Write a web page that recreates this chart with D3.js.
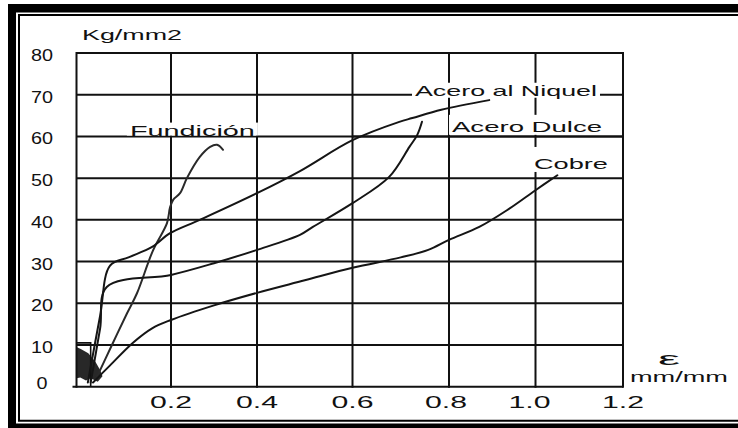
<!DOCTYPE html>
<html><head><meta charset="utf-8">
<script src="https://cdn.jsdelivr.net/npm/d3@7"></script>
<style>
html,body{margin:0;padding:0;background:#fff;}
svg{display:block;}
text{font-family:"Liberation Sans",Arial,Helvetica,sans-serif;fill:#111;}
</style>
</head><body>
<svg id="chart" width="738" height="428"></svg>
<script>
// ---------- data ----------
const xTicks = [0, 0.2, 0.4, 0.6, 0.8, 1.0, 1.2];
const xTickLabels = ["", "0.2", "0.4", "0.6", "0.8", "1.0", "1.2"];
const yTicks = [0, 10, 20, 30, 40, 50, 60, 70, 80];
const yTickLabels = ["0", "10", "20", "30", "40", "50", "60", "70", "80"];
const yUnit = "Kg/mm2";
const xSymbol = "ε";
const xUnit = "mm/mm";

const seriesNames = ["Fundición", "Acero al Niquel", "Acero Dulce", "Cobre"];

// [strain mm/mm, stress Kg/mm2]
const fundicion = [[0.043,2.3],[0.075,10],[0.107,17.6],[0.128,22.4],[0.162,32.7],[0.1915,39.2],[0.198,43],[0.205,44.8],[0.221,46.4],[0.237,50],[0.267,55.1],[0.291,57.5],[0.307,58],[0.321,56.8]];
const aceroNiquel = [[0.024,1],[0.05,17],[0.071,29],[0.11,31],[0.16,33.5],[0.198,36.8],[0.267,40],[0.4,46.4],[0.49,51.7],[0.6,59.1],[0.697,63.5],[0.724,64.4],[0.784,66.4],[0.893,68.7]];
const aceroDulce = [[0.03,1],[0.05,14],[0.064,23.9],[0.2,26.8],[0.3,29.6],[0.4,32.8],[0.49,36.4],[0.517,38.3],[0.6,44],[0.676,50.3],[0.718,57.5],[0.734,60.3],[0.744,63.5]];
const cobre = [[0.035,1],[0.07,5],[0.119,10.5],[0.16,14],[0.2,16],[0.3,19.5],[0.4,22.5],[0.5,25.5],[0.6,28.5],[0.7,31],[0.757,32.8],[0.8,35.2],[0.87,38.3],[0.934,42.3],[1.0,47.1],[1.05,50.7]];
// smeared elastic-zone detail near the origin
const zonaElastica = [[0,9.5],[0.01,9],[0.025,8],[0.04,6],[0.05,4],[0.055,2.5],[0.045,1.2],[0.03,2],[0.02,1.5],[0.008,2.2],[0,2]];
const zonaMarco = [[0,10.5],[0.03,10.5],[0.03,0]];

// ---------- layout ----------
const svg = d3.select("#chart");
const x = d3.scaleLinear().domain(xTicks).range([76.5, 171, 257, 352.5, 449, 535.5, 623]);
const y = d3.scaleLinear().domain([0, 80]).range([386.7, 53]);
const ink = "#111";

svg.append("rect").attr("width", 738).attr("height", 428).attr("fill", "#fff");

// frame
svg.append("rect").attr("x", 8).attr("y", 4).attr("width", 730).attr("height", 8.5).attr("fill", "#000");
svg.append("rect").attr("x", 8).attr("y", 4).attr("width", 8).attr("height", 424).attr("fill", "#000");
svg.append("rect").attr("x", 8).attr("y", 423.5).attr("width", 730).attr("height", 4.5).attr("fill", "#000");
svg.append("path").attr("d", "M738,15H19V420.7H738").attr("fill", "none").attr("stroke", "#000").attr("stroke-width", 2);

// grid
const g = svg.append("g");
g.selectAll("line.h").data(yTicks).join("line")
  .attr("x1", d => d === 0 ? x(0) - 4 : x(0)).attr("x2", x(1.2))
  .attr("y1", d => y(d)).attr("y2", d => y(d))
  .attr("stroke", ink).attr("stroke-width", 2);
g.selectAll("line.v").data(xTicks).join("line")
  .attr("x1", d => x(d)).attr("x2", d => x(d))
  .attr("y1", y(80) - 1).attr("y2", y(0) + 1)
  .attr("stroke", ink).attr("stroke-width", 2);

// elastic zone details
svg.append("path").datum(zonaElastica)
  .attr("d", d3.line().x(d => x(d[0])).y(d => y(d[1])))
  .attr("fill", "#111").attr("opacity", 0.9);
svg.append("path").datum(zonaMarco)
  .attr("d", d3.line().x(d => x(d[0])).y(d => y(d[1])))
  .attr("fill", "none").attr("stroke", ink).attr("stroke-width", 1.6);

// curves
const line = d3.line().x(d => x(d[0])).y(d => y(d[1])).curve(d3.curveCatmullRom.alpha(0.5));
const curves = [fundicion, aceroNiquel, aceroDulce, cobre];
svg.selectAll("path.curve").data(curves).join("path")
  .attr("class", "curve")
  .attr("d", line)
  .attr("fill", "none")
  .attr("stroke", (d, i) => i === 0 ? "#2a2a2a" : "#151515")
  .attr("stroke-width", 2)
  .attr("stroke-linejoin", "round")
  .attr("stroke-linecap", "round");

// labels with white backing
const labelAnchors = [
  {x: 0.113, y: 60.2, w: 125},
  {x: 0.7295, y: 69.75, w: 182},
  {x: 0.807, y: 61.1, w: 150},
  {x: 0.9965, y: 52.2, w: 74}
];
const lg = svg.append("g");
seriesNames.forEach((name, i) => {
  const a = labelAnchors[i];
  const bx = x(a.x), by = y(a.y);
  const rect = lg.append("rect").attr("fill", "#fff");
  lg.append("text").attr("x", bx).attr("y", by)
    .attr("font-size", 15)
    .attr("textLength", a.w).attr("lengthAdjust", "spacingAndGlyphs")
    .text(name);
  const tops = [13, 13, 17, 22];
  const bots = [0, 2, 3, 3];
  rect.attr("x", bx - 3).attr("width", a.w + 6)
      .attr("y", by - tops[i]).attr("height", tops[i] + bots[i]);
});
// gridline 60 stays visible under the "Acero Dulce" label
lg.append("line").attr("x1", x(0.6)).attr("x2", x(1.2)).attr("y1", y(60)).attr("y2", y(60))
  .attr("stroke", ink).attr("stroke-width", 2);

// tick labels
svg.selectAll("text.yt").data(yTicks).join("text")
  .attr("class", "yt")
  .attr("x", 42).attr("y", d => d === 0 ? y(d) + 2 : y(d) + 8)
  .attr("text-anchor", "middle").attr("font-size", 16)
  .attr("textLength", (d, i) => yTickLabels[i].length * 11).attr("lengthAdjust", "spacingAndGlyphs")
  .text((d, i) => yTickLabels[i]);

svg.selectAll("text.xt").data(xTicks.filter((d, i) => xTickLabels[i] !== "")).join("text")
  .attr("class", "xt")
  .attr("x", d => x(d) - (d === 1.0 ? 6 : (d === 0.8 ? 3 : 0))).attr("y", 408)
  .attr("text-anchor", "middle").attr("font-size", 16)
  .attr("textLength", 42).attr("lengthAdjust", "spacingAndGlyphs")
  .text(d => xTickLabels[xTicks.indexOf(d)]);

// axis titles
svg.append("text").attr("x", 82).attr("y", 40).attr("font-size", 14)
  .attr("textLength", 100).attr("lengthAdjust", "spacingAndGlyphs").text(yUnit);
svg.append("text").attr("x", 669).attr("y", 365).attr("font-size", 18).attr("text-anchor", "middle")
  .attr("textLength", 22).attr("lengthAdjust", "spacingAndGlyphs").text(xSymbol);
svg.append("text").attr("x", 630).attr("y", 382).attr("font-size", 15)
  .attr("textLength", 98).attr("lengthAdjust", "spacingAndGlyphs").text(xUnit);
</script>
</body></html>
